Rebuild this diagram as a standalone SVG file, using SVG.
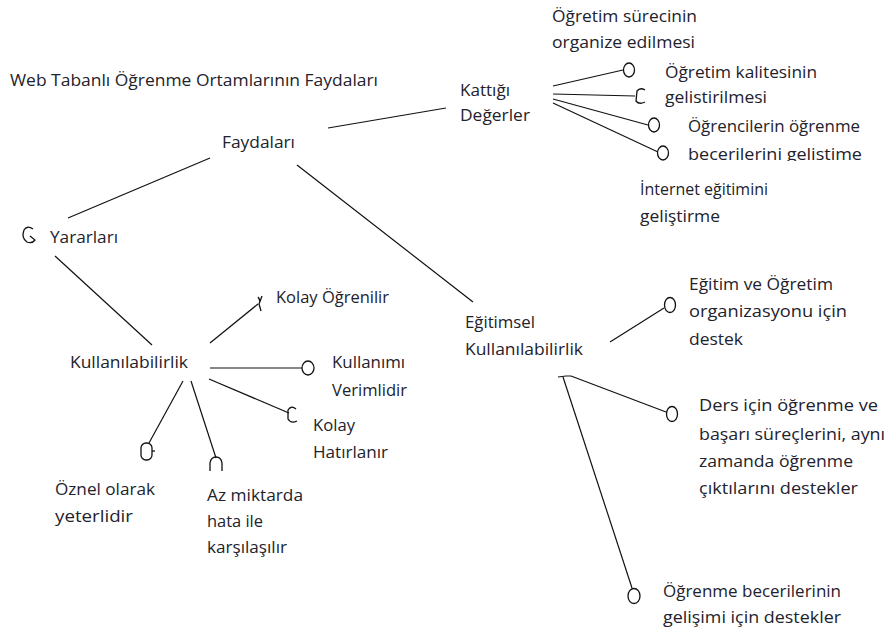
<svg xmlns="http://www.w3.org/2000/svg" width="888" height="635" viewBox="0 0 888 635">
<style>
text{font-family:"Open Sans","Noto Sans","Liberation Sans",sans-serif;font-size:16px;fill:#22222c}
.l{stroke:#111;stroke-width:1.2;fill:none}
.c{stroke:#111;stroke-width:1.3;fill:#fff}
.g{stroke:#111;stroke-width:1.3;fill:none}
</style>
<defs>
<clipPath id="clipB"><rect x="600" y="130" width="288" height="31"/></clipPath>
</defs>
<rect width="888" height="635" fill="#fff"/>
<g id="connectors">
<line class="l" x1="328" y1="128" x2="446" y2="108"/>
<line class="l" x1="68" y1="218" x2="210" y2="158"/>
<line class="l" x1="297" y1="165" x2="473" y2="302"/>
<line class="l" x1="55" y1="256" x2="152" y2="345"/>
<line class="l" x1="553" y1="86" x2="623" y2="70"/>
<line class="l" x1="553" y1="94" x2="635" y2="96"/>
<line class="l" x1="553" y1="99" x2="648" y2="125"/>
<line class="l" x1="553" y1="103" x2="658" y2="152"/>
<line class="l" x1="210" y1="343" x2="258" y2="304"/>
<line class="l" x1="210" y1="368" x2="302" y2="368"/>
<line class="l" x1="209" y1="379" x2="289" y2="413"/>
<line class="l" x1="183" y1="381" x2="149" y2="443"/>
<line class="l" x1="191" y1="381" x2="216" y2="458"/>
<line class="l" x1="610" y1="342" x2="664" y2="308"/>
<line class="l" x1="571" y1="376" x2="666" y2="412"/>
<line class="l" x1="563" y1="377" x2="632" y2="588"/>
<path class="l" d="M558,377 L566,376 L571,376"/>
</g>
<g id="title"><text x="10" y="86" textLength="368" lengthAdjust="spacingAndGlyphs">Web Tabanlı Öğrenme Ortamlarının Faydaları</text></g>
<g id="faydalari"><text x="222" y="148" textLength="73" lengthAdjust="spacingAndGlyphs">Faydaları</text></g>
<g id="kattigi"><text x="460" y="96" textLength="50" lengthAdjust="spacingAndGlyphs">Kattığı</text><text x="460" y="121" textLength="70" lengthAdjust="spacingAndGlyphs">Değerler</text></g>
<g id="ogretim-sureci"><text x="552" y="22" textLength="145" lengthAdjust="spacingAndGlyphs">Öğretim sürecinin</text><text x="552" y="48" textLength="143" lengthAdjust="spacingAndGlyphs">organize edilmesi</text></g>
<g id="ogretim-kalite"><ellipse class="c" cx="629" cy="70" rx="5.5" ry="7"/><text x="665" y="78" textLength="152" lengthAdjust="spacingAndGlyphs">Öğretim kalitesinin</text><text x="665" y="103" textLength="102" lengthAdjust="spacingAndGlyphs">gelistirilmesi</text></g>
<g id="c2"><path class="g" d="M645,90 Q640,87 637,91 L636,101 Q639,105 645,102"/></g>
<g id="ogrenciler"><ellipse class="c" cx="654" cy="125" rx="5.5" ry="7"/><text x="688" y="132" textLength="172" lengthAdjust="spacingAndGlyphs">Öğrencilerin öğrenme</text><text x="688" y="160" textLength="174" lengthAdjust="spacingAndGlyphs" clip-path="url(#clipB)">becerilerini gelistime</text></g>
<g id="c4"><ellipse class="c" cx="663" cy="153" rx="5.5" ry="7"/></g>
<g id="internet"><text x="640" y="195" textLength="128" lengthAdjust="spacingAndGlyphs">İnternet eğitimini</text><text x="640" y="222" textLength="80" lengthAdjust="spacingAndGlyphs">geliştirme</text></g>
<g id="yararlari"><path class="g" d="M33,229 Q27,225 24,230 Q21,238 27,242 Q32,244 35,240 L30,236"/><text x="50" y="243" textLength="68" lengthAdjust="spacingAndGlyphs">Yararları</text></g>
<g id="kullanilabilirlik"><text x="70" y="368" textLength="118" lengthAdjust="spacingAndGlyphs">Kullanılabilirlik</text></g>
<g id="kolay-ogrenilir"><path class="g" d="M258,297 Q261,301 259,304 M262,296 L259,304 L261,311"/><text x="276" y="303" textLength="113" lengthAdjust="spacingAndGlyphs">Kolay Öğrenilir</text></g>
<g id="kullanimi"><ellipse class="c" cx="308" cy="368" rx="6" ry="7"/><text x="332" y="368" textLength="73" lengthAdjust="spacingAndGlyphs">Kullanımı</text><text x="332" y="396" textLength="75" lengthAdjust="spacingAndGlyphs">Verimlidir</text></g>
<g id="kolay-hatirlanir"><path class="g" d="M296,409 Q291,405 288,410 L288,419 Q291,424 297,421"/><text x="313" y="431" textLength="42" lengthAdjust="spacingAndGlyphs">Kolay</text><text x="313" y="458" textLength="75" lengthAdjust="spacingAndGlyphs">Hatırlanır</text></g>
<g id="oznel"><rect class="c" x="141" y="443" width="11" height="17" rx="5"/><path class="g" d="M152,451 L155,451"/><text x="55" y="495" textLength="100" lengthAdjust="spacingAndGlyphs">Öznel olarak</text><text x="55" y="522" textLength="78" lengthAdjust="spacingAndGlyphs">yeterlidir</text></g>
<g id="az-miktarda"><path class="g" d="M210,471 L210,463 Q211,457 216,457 Q221,457 222,463 L222,471"/><text x="207" y="501" textLength="96" lengthAdjust="spacingAndGlyphs">Az miktarda</text><text x="207" y="527" textLength="56" lengthAdjust="spacingAndGlyphs">hata ile</text><text x="207" y="553" textLength="80" lengthAdjust="spacingAndGlyphs">karşılaşılır</text></g>
<g id="egitimsel"><text x="465" y="328" textLength="70" lengthAdjust="spacingAndGlyphs">Eğitimsel</text><text x="465" y="355" textLength="118" lengthAdjust="spacingAndGlyphs">Kullanılabilirlik</text></g>
<g id="egitim-ogretim"><ellipse class="c" cx="670" cy="305" rx="5.5" ry="7.5"/><text x="689" y="290" textLength="144" lengthAdjust="spacingAndGlyphs">Eğitim ve Öğretim</text><text x="689" y="317" textLength="158" lengthAdjust="spacingAndGlyphs">organizasyonu için</text><text x="689" y="345" textLength="54" lengthAdjust="spacingAndGlyphs">destek</text></g>
<g id="ders"><ellipse class="c" cx="672" cy="414" rx="5.5" ry="7.5"/><text x="699" y="411" textLength="179" lengthAdjust="spacingAndGlyphs">Ders için öğrenme ve</text><text x="699" y="440" textLength="186" lengthAdjust="spacingAndGlyphs">başarı süreçlerini, aynı</text><text x="699" y="467" textLength="154" lengthAdjust="spacingAndGlyphs">zamanda öğrenme</text><text x="699" y="494" textLength="159" lengthAdjust="spacingAndGlyphs">çıktılarını destekler</text></g>
<g id="ogrenme-beceri"><ellipse class="c" cx="634" cy="596" rx="6" ry="7.5"/><text x="663" y="597" textLength="178" lengthAdjust="spacingAndGlyphs">Öğrenme becerilerinin</text><text x="663" y="623" textLength="178" lengthAdjust="spacingAndGlyphs">gelişimi için destekler</text></g>
</svg>
